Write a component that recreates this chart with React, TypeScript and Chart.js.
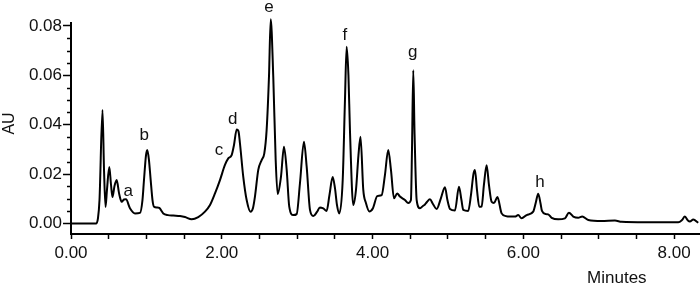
import React, { useEffect, useRef } from 'react';
import { Chart, registerables } from 'chart.js';

Chart.register(...registerables);

// Retention time (minutes)
const times = [
  0, 0.332, 0.358, 0.378, 0.418, 0.438, 0.458, 0.477, 0.508, 0.531,
  0.550, 0.577, 0.606, 0.637, 0.672, 0.703, 0.729, 0.782, 0.849, 0.915,
  0.948, 0.968, 0.995, 1.012, 1.034, 1.057, 1.081, 1.101, 1.141, 1.171,
  1.224, 1.286, 1.357, 1.446, 1.512, 1.601, 1.688, 1.777, 1.844, 1.910,
  1.976, 2.042, 2.086, 2.131, 2.162, 2.198, 2.221, 2.241, 2.285, 2.330,
  2.381, 2.414, 2.440, 2.484, 2.529, 2.564, 2.595, 2.626, 2.649, 2.683,
  2.715, 2.741, 2.785, 2.825, 2.861, 2.895, 2.948, 2.993, 3.037, 3.090,
  3.126, 3.170, 3.214, 3.263, 3.302, 3.346, 3.391, 3.428, 3.471, 3.501,
  3.528, 3.559, 3.604, 3.634, 3.656, 3.680, 3.700, 3.744, 3.780, 3.813,
  3.840, 3.877, 3.912, 3.956, 4.005, 4.062, 4.121, 4.164, 4.208, 4.244,
  4.284, 4.327, 4.363, 4.430, 4.473, 4.509, 4.523, 4.540, 4.556, 4.585,
  4.629, 4.668, 4.695, 4.721, 4.761, 4.801, 4.850, 4.907, 4.960, 4.993,
  5.027, 5.093, 5.146, 5.179, 5.203, 5.269, 5.305, 5.338, 5.358, 5.385,
  5.415, 5.447, 5.477, 5.513, 5.544, 5.579, 5.610, 5.656, 5.712, 5.769,
  5.822, 5.889, 5.932, 5.977, 6.044, 6.131, 6.167, 6.197, 6.227, 6.247,
  6.300, 6.330, 6.376, 6.463, 6.552, 6.605, 6.662, 6.728, 6.781, 6.861,
  7.039, 7.215, 7.304, 7.613, 8.055, 8.104, 8.143, 8.183, 8.210, 8.254,
  8.320,
];

// Absorbance (AU)
const absorbance = [
  0, 0, 0.0022, 0.0095, 0.0460, 0.0217, 0.0067, 0.0136, 0.0229, 0.0156,
  0.0107, 0.0152, 0.0176, 0.0123, 0.0088, 0.0097, 0.0098, 0.0062, 0.0041, 0.0043,
  0.0095, 0.0176, 0.0277, 0.0298, 0.0257, 0.0176, 0.0095, 0.0068, 0.0065, 0.0063,
  0.0041, 0.0034, 0.0032, 0.0030, 0.0026, 0.0017, 0.0026, 0.0048, 0.0075, 0.0122,
  0.0176, 0.0237, 0.0264, 0.0277, 0.0318, 0.0381, 0.0374, 0.0325, 0.0189, 0.0095,
  0.0048, 0.0063, 0.0109, 0.0217, 0.0257, 0.0284, 0.0379, 0.0594, 0.0827, 0.0594,
  0.0257, 0.0119, 0.0189, 0.0311, 0.0217, 0.0068, 0.0034, 0.0038, 0.0163, 0.0331,
  0.0230, 0.0055, 0.0030, 0.0047, 0.0065, 0.0061, 0.0051, 0.0115, 0.0188, 0.0144,
  0.0075, 0.0041, 0.0176, 0.0500, 0.0716, 0.0601, 0.0379, 0.0075, 0.0136, 0.0277,
  0.0351, 0.0136, 0.0083, 0.0049, 0.0062, 0.0111, 0.0115, 0.0196, 0.0298, 0.0217,
  0.0102, 0.0122, 0.0109, 0.0095, 0.0083, 0.0095, 0.0298, 0.0621, 0.0379, 0.0095,
  0.0062, 0.0071, 0.0077, 0.0087, 0.0098, 0.0079, 0.0059, 0.0103, 0.0147, 0.0095,
  0.0059, 0.0053, 0.0149, 0.0095, 0.0055, 0.0051, 0.0115, 0.0200, 0.0217, 0.0136,
  0.0068, 0.0069, 0.0156, 0.0236, 0.0156, 0.0088, 0.0083, 0.0107, 0.0041, 0.0030,
  0.0028, 0.0028, 0.0034, 0.0021, 0.0034, 0.0048, 0.0087, 0.0121, 0.0083, 0.0051,
  0.0038, 0.0037, 0.0023, 0.0017, 0.0021, 0.0044, 0.0028, 0.0023, 0.0028, 0.0014,
  0.0010, 0.0012, 0.0007, 0.0005, 0.0005, 0.0014, 0.0028, 0.0012, 0.0008, 0.0016,
  0.0003,
];

// Peak letters and their label anchor (text baseline) in data units
const peakLabels = ['a', 'b', 'c', 'd', 'e', 'f', 'g', 'h'];
const peakLabelTimes = [0.76, 0.972, 1.963, 2.145, 2.626, 3.634, 4.532, 6.22];
const peakLabelAU = [0.0111, 0.0338, 0.0277, 0.0403, 0.0856, 0.0743, 0.0674, 0.0148];

// Axis ticks
const yMajorStep = 0.02;
const yMinorTicks = [0.005, 0.01, 0.015, 0.025, 0.03, 0.035, 0.045, 0.05, 0.055, 0.065, 0.07, 0.075];
const xTickStep = 0.5;
const xLabelEvery = 2;

const xTitle = 'Minutes';
const yTitle = 'AU';
const xTitleAt = 7.24;
const yTitleAt = 0.0405;

const FONT = '"Liberation Sans", Arial, Helvetica, sans-serif';
const INK = '#111';

const annotatePlugin = {
  id: 'annotate',
  afterDraw(chart: any) {
    const { ctx } = chart;
    const x = chart.scales.x;
    const y = chart.scales.y;
    ctx.save();
    // minor y ticks
    ctx.strokeStyle = '#000';
    ctx.lineWidth = 1.5;
    for (const v of yMinorTicks) {
      const py = Math.round(y.getPixelForValue(v)) + 0.5;
      ctx.beginPath();
      ctx.moveTo(y.right - 4, py);
      ctx.lineTo(y.right, py);
      ctx.stroke();
    }
    // peak letters
    ctx.fillStyle = INK;
    ctx.font = `17px ${FONT}`;
    ctx.textAlign = 'center';
    ctx.textBaseline = 'alphabetic';
    peakLabels.forEach((l, i) => {
      ctx.fillText(l, x.getPixelForValue(peakLabelTimes[i]), y.getPixelForValue(peakLabelAU[i]));
    });
    // x title
    ctx.fillText(xTitle, x.getPixelForValue(xTitleAt), x.bottom - 1);
    // y title
    ctx.font = `16px ${FONT}`;
    ctx.textBaseline = 'middle';
    ctx.translate(y.left + 10, y.getPixelForValue(yTitleAt));
    ctx.rotate(-Math.PI / 2);
    ctx.fillText(yTitle, 0, 0);
    ctx.restore();
  },
};

export default function App() {
  const ref = useRef<HTMLCanvasElement>(null);
  useEffect(() => {
    if (!ref.current) return;
    const points = times.map((t, i) => ({ x: t, y: absorbance[i] }));
    const chart = new Chart(ref.current, {
      type: 'line',
      data: {
        datasets: [
          {
            data: points,
            borderColor: '#000',
            borderWidth: 2,
            pointRadius: 0,
            fill: false,
            cubicInterpolationMode: 'monotone',
            clip: false as any,
          },
        ],
      },
      plugins: [annotatePlugin],
      options: {
        animation: false,
        responsive: false,
        devicePixelRatio: 1,
        layout: { padding: { top: 23, right: 1, left: 0, bottom: 0 } },
        plugins: { legend: { display: false }, tooltip: { enabled: false } },
        scales: {
          x: {
            type: 'linear',
            min: 0,
            max: 8.33,
            ticks: {
              stepSize: xTickStep,
              includeBounds: false,
              autoSkip: false,
              maxRotation: 0,
              padding: 4,
              color: INK,
              font: { size: 17, family: FONT },
              callback: (v: any) => (Math.abs(v % xLabelEvery) < 1e-9 ? Number(v).toFixed(2) : ''),
            },
            grid: { drawOnChartArea: false, drawTicks: true, tickLength: 5, tickColor: '#000', tickWidth: 1.5 },
            border: { display: true, color: '#000', width: 2 },
            afterFit: (s: any) => { s.height = 50; },
          },
          y: {
            type: 'linear',
            min: -0.00425,
            max: 0.0812,
            ticks: {
              stepSize: yMajorStep,
              includeBounds: false,
              padding: 1,
              color: INK,
              font: { size: 17, family: FONT },
              callback: (v: any) => Number(v).toFixed(2),
            },
            grid: { drawOnChartArea: false, drawTicks: true, tickLength: 8, tickColor: '#000', tickWidth: 1.5 },
            border: { display: true, color: '#000', width: 2 },
            afterFit: (s: any) => { s.width = 71; },
          },
        },
      },
    });
    return () => chart.destroy();
  }, []);
  return (
    <div style={{ position: 'absolute', left: 0, top: 0, width: 700, height: 284, background: '#fff' }}>
      <canvas ref={ref} width={700} height={284} />
    </div>
  );
}
